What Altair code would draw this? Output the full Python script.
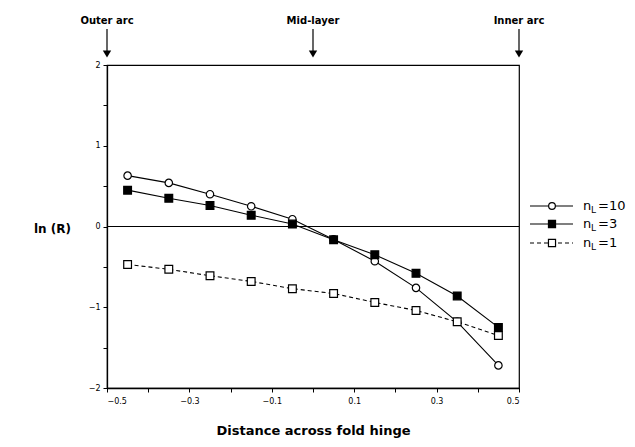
import altair as alt
import pandas as pd

# ---- data ----
x_pos = [-0.45, -0.35, -0.25, -0.15, -0.05, 0.05, 0.15, 0.25, 0.35, 0.45]
nl10 = [0.63, 0.54, 0.40, 0.25, 0.09, -0.16, -0.43, -0.76, -1.18, -1.72]
nl3 = [0.45, 0.35, 0.26, 0.14, 0.03, -0.165, -0.35, -0.58, -0.86, -1.25]
nl1 = [-0.47, -0.53, -0.61, -0.68, -0.77, -0.83, -0.94, -1.04, -1.18, -1.35]

arrow_x = [-0.5, 0.0, 0.5]
arrow_labels = ["Outer arc", "Mid-layer", "Inner arc"]

x_ticks = [-0.5, -0.4, -0.3, -0.2, -0.1, 0.0, 0.1, 0.2, 0.3, 0.4, 0.5]
y_ticks = [-2, -1.5, -1, -0.5, 0, 0.5, 1, 1.5, 2]

legend_suffix = ["=10", "=3", "=1"]

FONT = "DejaVu Sans"

W, H = 412, 323

xs = alt.Scale(domain=[-0.5, 0.5], nice=False, zero=False)
ys = alt.Scale(domain=[-2, 2], nice=False, zero=False)

series = [
    (nl10, "circle", "white", []),
    (nl3, "square", "black", []),
    (nl1, "square", "white", [4, 3]),
]

layers = []

# zero line
zero_df = pd.DataFrame({"y": [0]})
layers.append(
    alt.Chart(zero_df).mark_rule(color="black", strokeWidth=1.2).encode(
        y=alt.Y("y:Q", scale=ys,
                axis=alt.Axis(values=y_ticks,
                              labelExpr="datum.value % 1 == 0 ? format(datum.value, 'd') : ''",
                              title="ln (R)", titleAngle=0, titleX=-55, titleY=H / 2 + 2,
                              titleAlign="center", titleBaseline="middle",
                              titleFont=FONT, titleFontSize=12, titleFontWeight="bold",
                              titleColor="black",
                              labelFont=FONT, labelFontSize=8, labelColor="black",
                              tickColor="black", tickSize=4, labelPadding=3,
                              domainColor="black", domainWidth=1.3, grid=False))
    )
)

for vals, shape, fill, dash in series:
    df = pd.DataFrame({"x": x_pos, "y": vals})
    base = alt.Chart(df).encode(
        x=alt.X("x:Q", scale=xs,
                axis=alt.Axis(values=x_ticks,
                              labelExpr="abs(round(datum.value*10)) % 2 == 1 ? format(datum.value, '.1f') : ''",
                              title="Distance across fold hinge", titleY=42,
                              titleBaseline="middle",
                              titleFont=FONT, titleFontSize=13, titleFontWeight="bold",
                              titleColor="black",
                              labelFont=FONT, labelFontSize=8, labelColor="black",
                              tickColor="black", tickSize=4, labelPadding=5,
                              domainColor="black", domainWidth=1.3, grid=False)),
        y=alt.Y("y:Q", scale=ys),
    )
    line_kw = dict(color="black", strokeWidth=1.1)
    if dash:
        line_kw["strokeDash"] = dash
    layers.append(base.mark_line(**line_kw))
    layers.append(base.mark_point(shape=shape, filled=True, fill=fill, stroke="black",
                                  strokeWidth=1.2, size=55 if shape == "circle" else 60,
                                  opacity=1))

# top arrows
arr_df = pd.DataFrame({"x": arrow_x, "label": arrow_labels})
arr = alt.Chart(arr_df)
layers.append(arr.mark_rule(color="black", strokeWidth=1.2).encode(
    x="x:Q", y=alt.value(-36), y2=alt.value(-12)))
layers.append(arr.mark_point(shape="triangle-down", filled=True, color="black",
                             size=70, opacity=1).encode(x="x:Q", y=alt.value(-11)))
layers.append(arr.mark_text(font=FONT, fontSize=10, fontWeight="bold", color="black",
                            baseline="middle").encode(
    x="x:Q", y=alt.value(-44), text="label:N"))

# legend (custom, to allow subscript L)
leg_y = [141, 159, 178]
one = pd.DataFrame({"a": [0]})
for i, (vals, shape, fill, dash) in enumerate(series):
    yy = leg_y[i]
    rk = dict(color="black", strokeWidth=1.1)
    if dash:
        rk["strokeDash"] = dash
    c = alt.Chart(one)
    layers.append(c.mark_rule(**rk).encode(x=alt.value(423), x2=alt.value(466), y=alt.value(yy)))
    layers.append(c.mark_point(shape=shape, filled=True, fill=fill, stroke="black",
                               strokeWidth=1.2, size=45 if shape == "circle" else 50,
                               opacity=1).encode(x=alt.value(445), y=alt.value(yy)))
    layers.append(c.mark_text(font=FONT, fontSize=13, color="black", align="left",
                              baseline="middle", text="n").encode(x=alt.value(476), y=alt.value(yy)))
    layers.append(c.mark_text(font=FONT, fontSize=9, color="black", align="left",
                              baseline="middle", text="L").encode(x=alt.value(484), y=alt.value(yy + 4)))
    layers.append(c.mark_text(font=FONT, fontSize=13, color="black", align="left",
                              baseline="middle", text=legend_suffix[i]).encode(x=alt.value(491), y=alt.value(yy)))

chart = alt.layer(*layers).properties(
    width=W, height=H,
    autosize=alt.AutoSizeParams(type="none"),
    padding={"left": 99, "top": 57, "right": 108, "bottom": 56},
).configure(background="white").configure_view(stroke="black", strokeWidth=1.2)

chart.save("out.html", embed_options={"renderer": "svg", "actions": False})
